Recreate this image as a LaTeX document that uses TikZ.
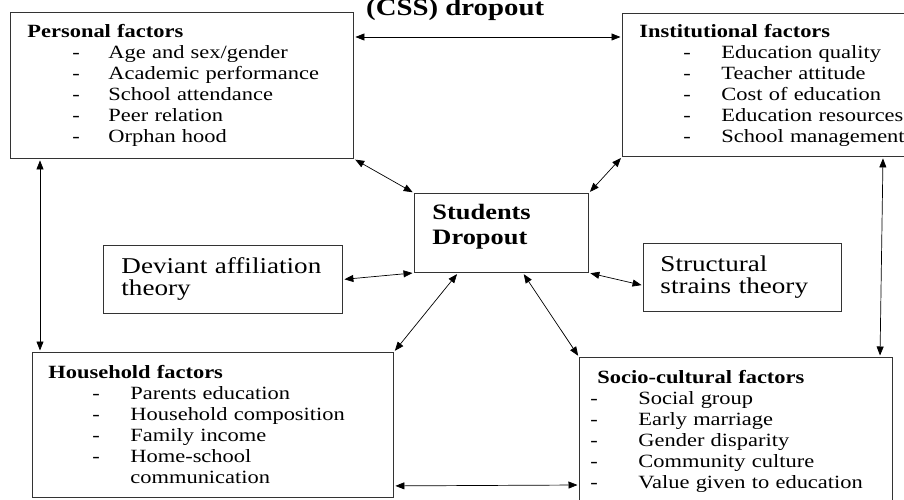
\documentclass[tikz,border=0pt]{standalone}
\usepackage{fontspec}
\setmainfont[FakeStretch=1.2]{Liberation Serif}
\usetikzlibrary{arrows.meta}
\newcommand{\fitem}[3]{\hspace*{#1}\makebox[#2][l]{-}\mbox{#3}}

\begin{document}
\begin{tikzpicture}[x=1pt,y=1pt,
  box/.style={draw=black!80, line width=0.9pt, anchor=north west, inner ysep=0pt},
  factor/.style={box, align=left, font=\fontsize{18.7}{21}\selectfont},
  theory/.style={box, align=left, inner xsep=18pt, font=\fontsize{22.6}{22}\selectfont},
  link/.style={{Triangle[length=9pt,width=7pt]}-{Triangle[length=9pt,width=7pt]}, line width=0.7pt, shorten <=1.5pt, shorten >=1.5pt}]
\useasboundingbox (0,0) rectangle (904,499);

\node[anchor=base west, inner sep=0pt, font=\bfseries\fontsize{24}{24}\selectfont] (title) at (366,483) {(CSS) dropout};

\node[factor, inner xsep=17pt, text width=309pt, minimum width=343pt, minimum height=146pt] (personal) at (10,487)
  {\textbf{Personal factors}\\
   \fitem{45pt}{36pt}{Age and sex/gender}\\
   \fitem{45pt}{36pt}{Academic performance}\\
   \fitem{45pt}{36pt}{School attendance}\\
   \fitem{45pt}{36pt}{Peer relation}\\
   \fitem{45pt}{36pt}{Orphan hood}};
\node[factor, inner xsep=17pt, text width=274pt, minimum width=308pt, minimum height=143pt] (institutional) at (622,486)
  {\textbf{Institutional factors}\\
   \fitem{44pt}{38pt}{Education quality}\\
   \fitem{44pt}{38pt}{Teacher attitude}\\
   \fitem{44pt}{38pt}{Cost of education}\\
   \fitem{44pt}{38pt}{Education resources}\\
   \fitem{44pt}{38pt}{School management}};
\node[box, align=left, inner xsep=18pt, text width=138pt, minimum width=174pt, minimum height=79pt,
  font=\bfseries\fontsize{22}{25}\selectfont] (center) at (414,306)
  {Students\\Dropout\\[-8pt]\mbox{}};
\node[theory, text width=203pt, minimum width=239pt, minimum height=68pt] (deviant) at (103,254)
  {\mbox{Deviant affiliation}\\theory};
\node[theory, inner xsep=17pt, text width=164pt, minimum width=198pt, minimum height=68pt] (structural) at (643,256)
  {Structural\\\mbox{strains theory}};
\node[factor, inner xsep=16pt, text width=329pt, minimum width=361pt, minimum height=145pt] (household) at (32,147)
  {\textbf{Household factors}\\
   \fitem{44pt}{38pt}{Parents education}\\
   \fitem{44pt}{38pt}{Household composition}\\
   \fitem{44pt}{38pt}{Family income}\\
   \fitem{44pt}{38pt}{Home-school}\\
   \hspace*{82pt}\mbox{communication}};
\node[factor, inner xsep=18pt, text width=277pt, minimum width=313pt, minimum height=148pt] (socio) at (579,142)
  {\textbf{Socio-cultural factors}\\
   \fitem{-7pt}{48pt}{Social group}\\
   \fitem{-7pt}{48pt}{Early marriage}\\
   \fitem{-7pt}{48pt}{Gender disparity}\\
   \fitem{-7pt}{48pt}{Community culture}\\
   \fitem{-7pt}{48pt}{Value given to education}};

\draw[link] ([yshift=-25pt]personal.north east) -- ([yshift=-24pt]institutional.north west);
\draw[link] ([xshift=30pt]personal.south west) -- ([xshift=8pt]household.north west);
\draw[link] ([xshift=261pt]institutional.south west) -- ([xshift=301pt]socio.north west);
\draw[link] ([yshift=12pt]household.south east) -- ([yshift=-128pt]socio.north west);
\draw[link] (personal.south east) -- (center.north west);
\draw[link] (institutional.south west) -- (center.north east);
\draw[link] (deviant.east) -- (center.south west);
\draw[link] (center.south east) -- ([yshift=-8pt]structural.west);
\draw[link] ([xshift=44pt]center.south west) -- (household.north east);
\draw[link] ([xshift=-66pt]center.south east) -- (socio.north west);
\end{tikzpicture}
\end{document}
